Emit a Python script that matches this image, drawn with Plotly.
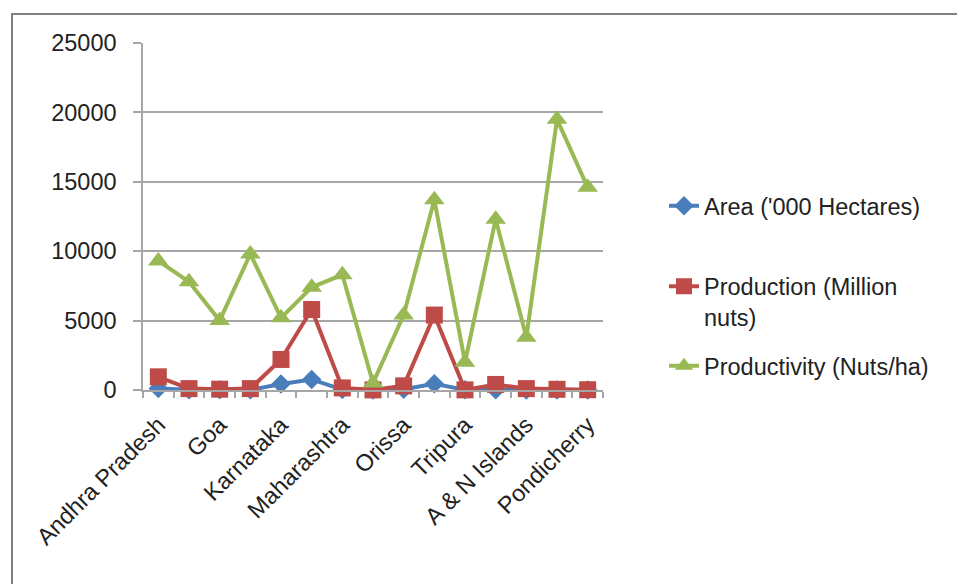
import plotly.graph_objects as go

# Coconut statistics by state / union territory
states = ["Andhra Pradesh", "Assam", "Goa", "Gujarat", "Karnataka", "Kerala",
          "Maharashtra", "Nagaland", "Orissa", "Tamil Nadu", "Tripura",
          "West Bengal", "A & N Islands", "Lakshadweep", "Pondicherry"]
shown_labels = ["Andhra Pradesh", "", "Goa", "", "Karnataka", "", "Maharashtra", "",
                "Orissa", "", "Tripura", "", "A & N Islands", "", "Pondicherry"]

area = [100, 20, 25, 10, 430, 760, 30, 5, 50, 450, 10, 20, 5, 3, 2]
production = [950, 100, 60, 100, 2200, 5800, 150, 10, 300, 5400, 10, 400, 100, 50, 20]
productivity = [9300, 7800, 5000, 9800, 5200, 7400, 8300, 500, 5400, 13700,
                2000, 12300, 3800, 19500, 14600]

y_ticks = [0, 5000, 10000, 15000, 20000, 25000]
y_tick_text = ["0", "5000", "10000", "15000", "20000", "25000"]

FONT = "Liberation Sans"
FS = 23.5
TXT = "#222222"
GRID = "#a6a6a6"

W, H = 957, 584
L, R, T, B = 143, 603, 43, 390


def px_x(p):
    return (p - L) / (R - L)


def px_y(p):
    return (B - p) / (B - T)


fig = go.Figure()
fig.add_trace(go.Scatter(
    x=states, y=area, name="Area ('000 Hectares)", mode="lines+markers",
    line=dict(color="#4a7ebb", width=4),
    marker=dict(symbol="diamond", size=15, color="#4a7ebb"),
    cliponaxis=False, legend="legend"))
fig.add_trace(go.Scatter(
    x=states, y=production, name="Production (Million<br>nuts)", mode="lines+markers",
    line=dict(color="#be4b48", width=4),
    marker=dict(symbol="square", size=17, color="#be4b48"),
    cliponaxis=False, legend="legend2"))
fig.add_trace(go.Scatter(
    x=states, y=productivity, name="Productivity (Nuts/ha)", mode="lines+markers",
    line=dict(color="#98b954", width=4),
    marker=dict(symbol="triangle-up", size=18, color="#98b954"),
    cliponaxis=False, legend="legend3"))

legend_common = dict(font=dict(family=FONT, size=FS, color=TXT), bgcolor="rgba(0,0,0,0)",
                     xanchor="left", x=px_x(664), valign="top")

fig.update_layout(
    width=W, height=H,
    margin=dict(l=L, r=W - R, t=T, b=H - B),
    paper_bgcolor="white", plot_bgcolor="white",
    font=dict(family=FONT, size=FS, color=TXT),
    showlegend=True,
    legend=dict(**legend_common, yanchor="middle", y=px_y(206)),
    legend2=dict(**legend_common, yanchor="middle", y=px_y(302)),
    legend3=dict(**legend_common, yanchor="middle", y=px_y(366)),
    xaxis=dict(
        type="category", categoryorder="array", categoryarray=states,
        tickmode="array", tickvals=states, ticktext=shown_labels,
        tickangle=-45, tickson="boundaries", ticks="outside", ticklen=6,
        tickcolor=GRID, tickwidth=1.5,
        showgrid=False, showline=True, linecolor=GRID, linewidth=1.5,
        range=[-0.5, len(states) - 0.5], ticklabelstandoff=10,
        tickfont=dict(family=FONT, size=FS, color=TXT)),
    yaxis=dict(
        range=[0, 25000], tickmode="array", tickvals=y_ticks, ticktext=y_tick_text,
        showgrid=True, gridcolor=GRID, gridwidth=1.5,
        ticks="outside", ticklen=8, tickcolor=GRID, tickwidth=1.5,
        showline=True, linecolor=GRID, linewidth=1.5, zeroline=False,
        ticklabelstandoff=12,
        tickfont=dict(family=FONT, size=FS, color=TXT)),
    shapes=[dict(type="rect", xref="paper", yref="paper",
                 x0=px_x(12), x1=px_x(962), y0=px_y(600), y1=px_y(14),
                 line=dict(color="#808080", width=2), fillcolor="rgba(0,0,0,0)",
                 layer="below")],
)

fig.write_html("out.html")
